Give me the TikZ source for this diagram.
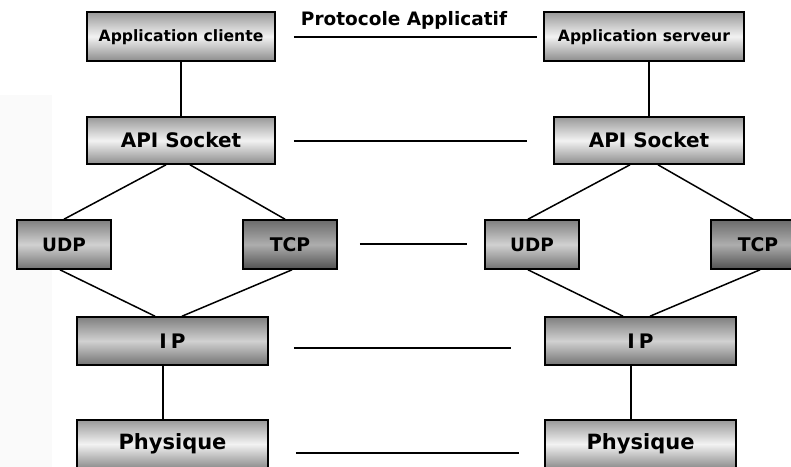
\documentclass[tikz,border=0pt]{standalone}
\usepackage{fontspec}
\setmainfont{DejaVu Sans}
\usetikzlibrary{calc}
\tikzset{
  box/.style={draw=black, line width=1.6pt, inner sep=0pt, font=\bfseries},
  lightbox/.style={box, top color=black!40, bottom color=black!45, middle color=black!5},
  midbox/.style={box, top color=black!50, bottom color=black!55, middle color=black!18},
  darkbox/.style={box, top color=black!58, bottom color=black!68, middle color=black!32},
  link/.style={line width=1.5pt, black},
}
\begin{document}
\begin{tikzpicture}[x=1pt,y=-1pt]
\useasboundingbox (0,0) rectangle (791,466);
\clip (0,0) rectangle (791,466);
\fill[black!2] (0,95) rectangle (52,470);

% left stack
\node[lightbox, minimum width=188pt, minimum height=49pt, text depth=1pt, font=\fontsize{15.6}{18}\selectfont\bfseries] (appc) at (181,36.5) {Application cliente};
\node[lightbox, minimum width=188pt, minimum height=47pt, font=\fontsize{20}{22}\selectfont\bfseries] (apil) at (181,140.5) {API Socket};
\node[midbox, minimum width=94pt, minimum height=49pt, font=\fontsize{18.4}{20}\selectfont\bfseries] (udpl) at (64,244.5) {UDP};
\node[darkbox, minimum width=94pt, minimum height=49pt, font=\fontsize{18.8}{20}\selectfont\bfseries] (tcpl) at (290,244.5) {TCP};
\node[midbox, minimum width=191pt, minimum height=48pt, font=\fontsize{20}{22}\selectfont\bfseries] (ipl) at (172.5,341) {I\kern4pt P};
\node[lightbox, minimum width=191pt, minimum height=48pt, font=\fontsize{21}{24}\selectfont\bfseries] (phl) at (172.5,444) {Physique};

% right stack
\node[lightbox, minimum width=200pt, minimum height=49pt, text depth=1pt, font=\fontsize{15.6}{18}\selectfont\bfseries] (apps) at (644,36.5) {Application serveur};
\node[lightbox, minimum width=190pt, minimum height=47pt, font=\fontsize{20}{22}\selectfont\bfseries] (apir) at (649,140.5) {API Socket};
\node[midbox, minimum width=94pt, minimum height=49pt, font=\fontsize{18.4}{20}\selectfont\bfseries] (udpr) at (532,244.5) {UDP};
\node[darkbox, minimum width=94pt, minimum height=49pt, font=\fontsize{18.8}{20}\selectfont\bfseries] (tcpr) at (758,244.5) {TCP};
\node[midbox, minimum width=191pt, minimum height=48pt, font=\fontsize{20}{22}\selectfont\bfseries] (ipr) at (640.5,341) {I\kern4pt P};
\node[lightbox, minimum width=191pt, minimum height=48pt, font=\fontsize{21}{24}\selectfont\bfseries] (phr) at (640.5,444) {Physique};

\node[font=\fontsize{18.5}{22}\selectfont\bfseries, inner sep=0pt] (proto) at (404,20) {Protocole Applicatif};

% vertical links
\draw[link] (appc.south) -- (apil.north);
\draw[link] (apps.south -| apir.north) -- (apir.north);
\draw[link] ([xshift=-15pt]apil.south) -- (udpl.north);
\draw[link] ([xshift=9pt]apil.south) -- ([xshift=-5pt]tcpl.north);
\draw[link] ([xshift=-19pt]apir.south) -- ([xshift=-4pt]udpr.north);
\draw[link] ([xshift=9pt]apir.south) -- ([xshift=-5pt]tcpr.north);
\draw[link] ([xshift=-4pt]udpl.south) -- ([xshift=-17.5pt]ipl.north);
\draw[link] ([xshift=2pt]tcpl.south) -- ([xshift=9.5pt]ipl.north);
\draw[link] ([xshift=-4pt]udpr.south) -- ([xshift=-17.5pt]ipr.north);
\draw[link] ([xshift=2pt]tcpr.south) -- ([xshift=9.5pt]ipr.north);
\draw[link] ([xshift=-9.5pt]ipl.south) -- ([xshift=-9.5pt]phl.north);
\draw[link] ([xshift=-9.5pt]ipr.south) -- ([xshift=-9.5pt]phr.north);

% horizontal peer links
\draw[link] ([xshift=18pt,yshift=-0.5pt]appc.east) -- ([xshift=-6pt,yshift=-0.5pt]apps.west);
\draw[link] ([xshift=18pt,yshift=-0.5pt]apil.east) -- ([xshift=-26pt,yshift=-0.5pt]apir.west);
\draw[link] ([xshift=22pt,yshift=0.5pt]tcpl.east) -- ([xshift=-17pt,yshift=0.5pt]udpr.west);
\draw[link] ([xshift=25pt,yshift=-7pt]ipl.east) -- ([xshift=-33pt,yshift=-7pt]ipr.west);
\draw[link] ([xshift=27pt,yshift=-9pt]phl.east) -- ([xshift=-25pt,yshift=-9pt]phr.west);
\end{tikzpicture}
\end{document}
